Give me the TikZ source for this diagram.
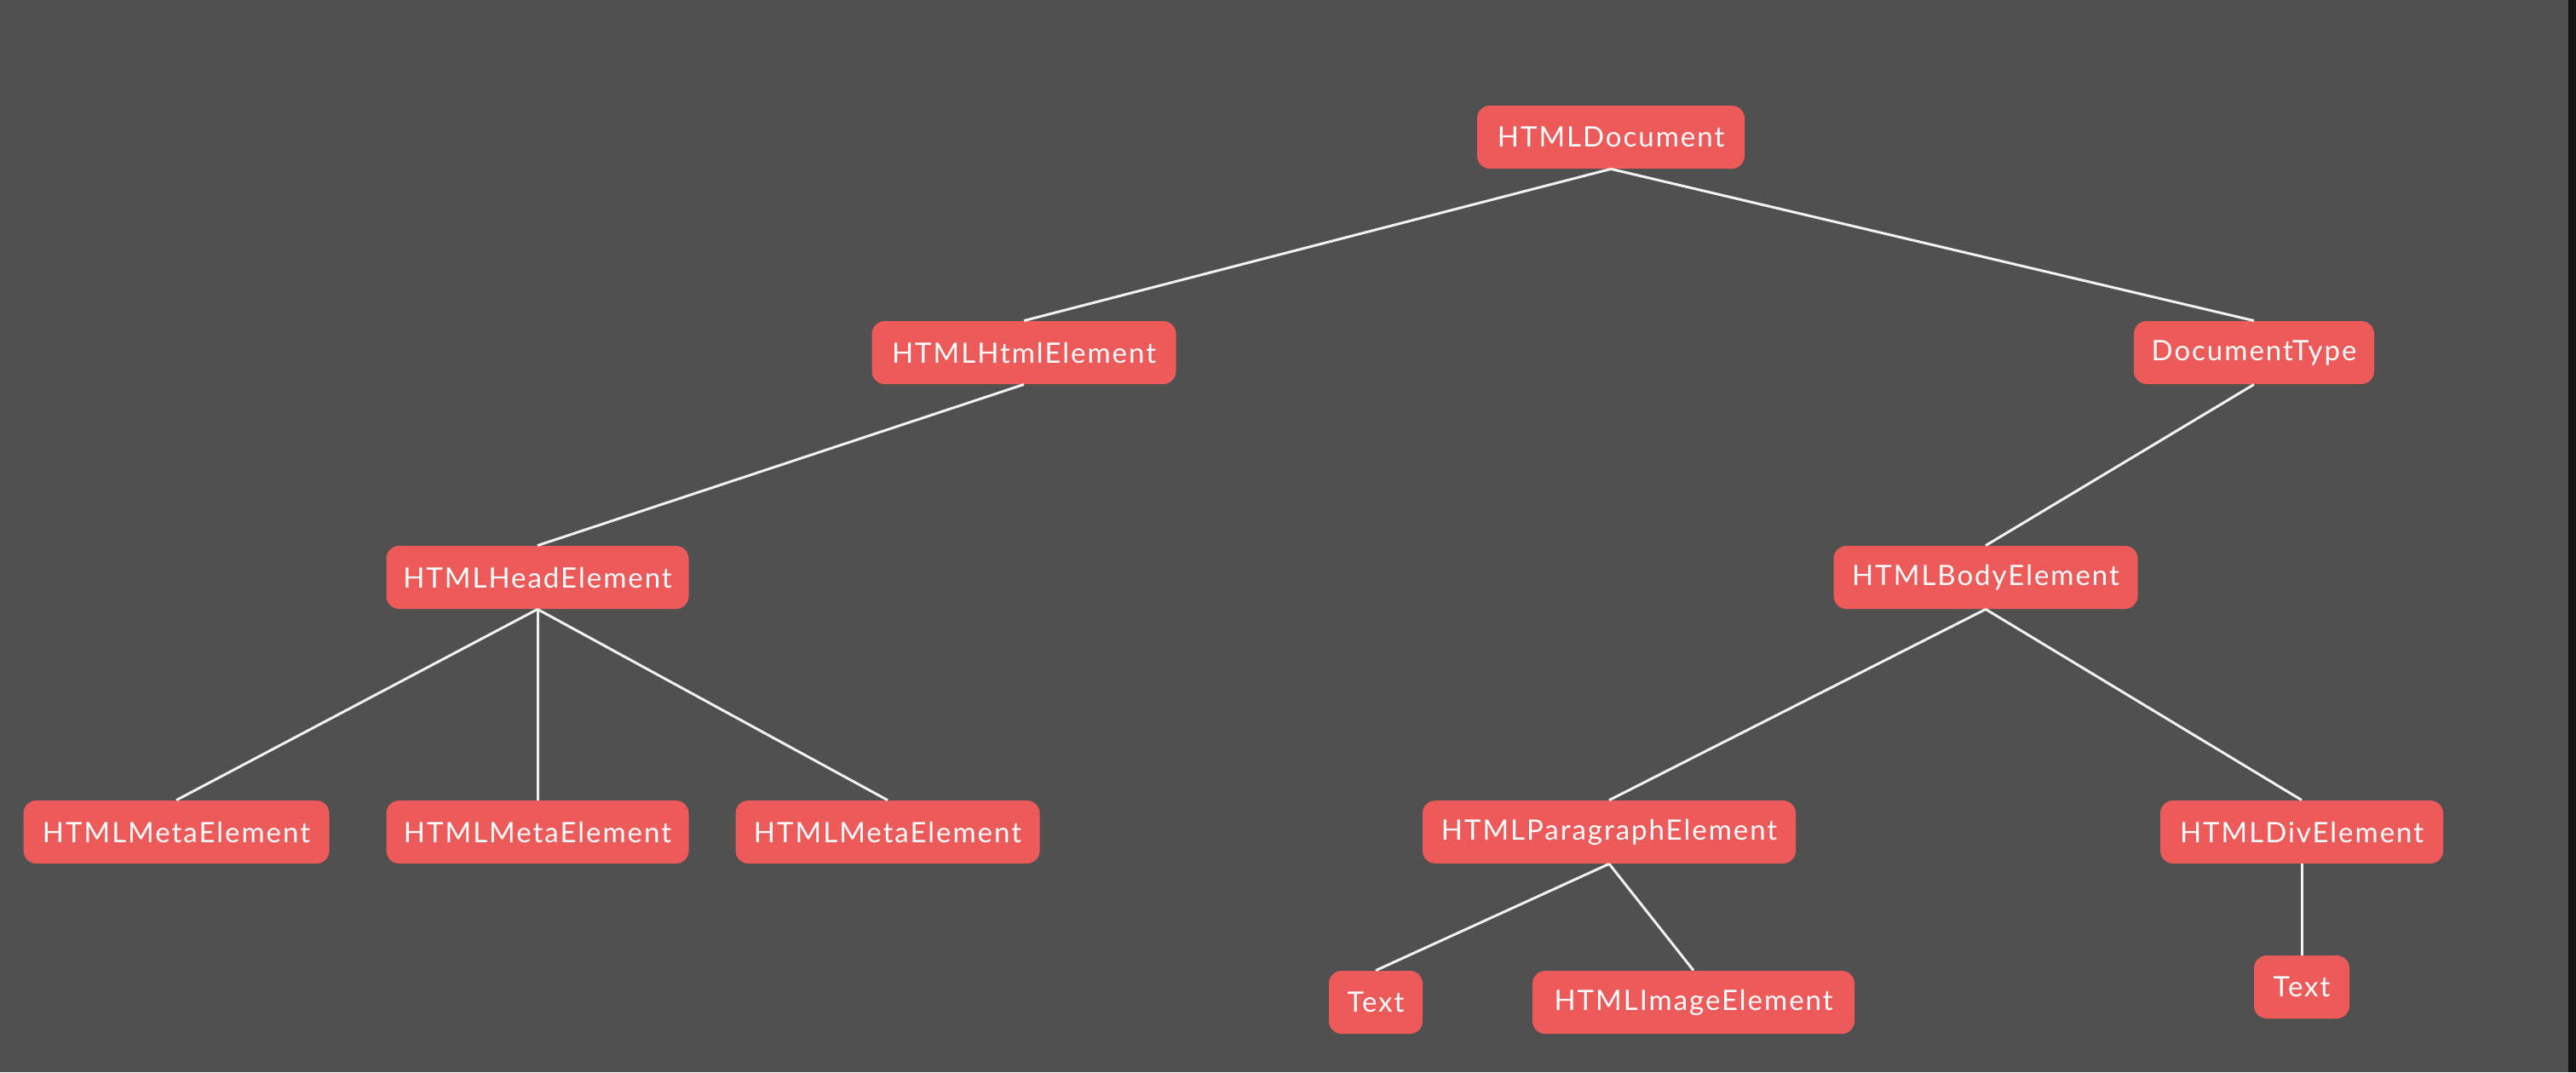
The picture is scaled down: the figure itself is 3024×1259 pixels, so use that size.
\documentclass[tikz,border=0pt]{standalone}
\usepackage{fontspec}
\setmainfont{Lato}[LetterSpace=6]
\definecolor{bg}{HTML}{505050}
\definecolor{boxred}{HTML}{EC5A5A}
\definecolor{edgecol}{HTML}{F2F2F2}
\tikzset{
  tbox/.style={fill=boxred, rounded corners=7.5pt, minimum height=37pt, inner xsep=0pt, inner ysep=0pt, text=white, font=\fontsize{16.5}{18}\selectfont, anchor=center},
  edge/.style={draw=edgecol, line width=1.5pt}
}
\begin{document}
\begin{tikzpicture}[x=0.5pt,y=-0.5pt]
\fill[bg] (0,0) rectangle (3024,1259);
\fill[black!93] (3015,0) rectangle (3024,1259);
\useasboundingbox (0,0) rectangle (3024,1259);
\node[tbox, minimum width=157pt] (doc) at (1891,161) {HTMLDocument};
\node[tbox, minimum width=178.5pt] (html) at (1202,414) {HTMLHtmlElement};
\node[tbox, minimum width=141pt] (dtype) at (2646,414) {DocumentType};
\node[tbox, minimum width=177.5pt] (head) at (631,678) {HTMLHeadElement};
\node[tbox, minimum width=178.5pt] (body) at (2331,678) {HTMLBodyElement};
\node[tbox, minimum width=179.5pt] (meta1) at (207,977) {HTMLMetaElement};
\node[tbox, minimum width=177.5pt] (meta2) at (631,977) {HTMLMetaElement};
\node[tbox, minimum width=178.5pt] (meta3) at (1042,977) {HTMLMetaElement};
\node[tbox, minimum width=219pt] (para) at (1889,977) {HTMLParagraphElement};
\node[tbox, minimum width=166pt] (div) at (2702,977) {HTMLDivElement};
\node[tbox, minimum width=55pt] (text1) at (1615,1177) {Text};
\node[tbox, minimum width=189pt] (img) at (1988,1177) {HTMLImageElement};
\node[tbox, minimum width=56pt] (text2) at (2702,1159) {Text};
\draw[edge] (doc.south) -- (html.north);
\draw[edge] (doc.south) -- (dtype.north);
\draw[edge] (html.south) -- (head.north);
\draw[edge] (dtype.south) -- (body.north);
\draw[edge] (head.south) -- (meta1.north);
\draw[edge] (head.south) -- (meta2.north);
\draw[edge] (head.south) -- (meta3.north);
\draw[edge] (body.south) -- (para.north);
\draw[edge] (body.south) -- (div.north);
\draw[edge] (para.south) -- (text1.north);
\draw[edge] (para.south) -- (img.north);
\draw[edge] (div.south) -- (text2.north);
\end{tikzpicture}
\end{document}
